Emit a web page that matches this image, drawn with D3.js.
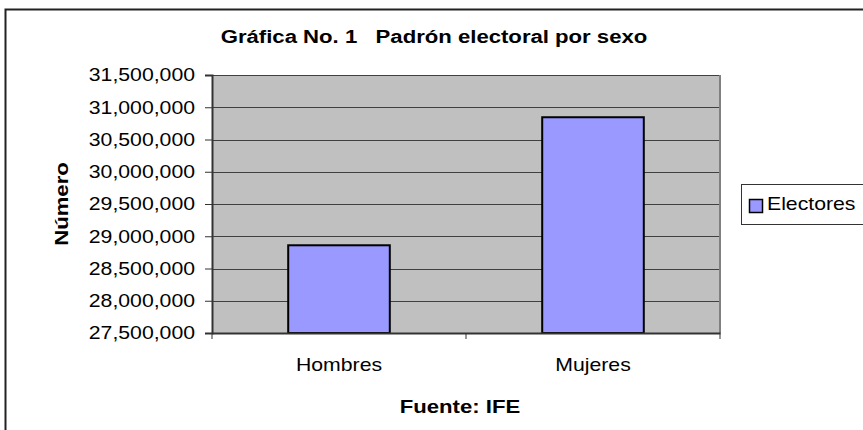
<html>
<head>
<meta charset="utf-8">
<title>Padrón electoral por sexo</title>
<style>
  body { margin: 0; background: #fff; }
  text { font-family: "Liberation Sans", Arial, sans-serif; fill: #000; }
  .grid line { stroke: #404040; stroke-width: 1; shape-rendering: crispEdges; }
</style>
</head>
<body>
<script src="https://cdn.jsdelivr.net/npm/d3@7/dist/d3.min.js"></script>
<script>
// datos
var categories = ["Hombres", "Mujeres"];
var electores = [28860000, 30845000];
var yTicks = [27500000, 28000000, 28500000, 29000000, 29500000, 30000000, 30500000, 31000000, 31500000];
var seriesName = "Electores";

var width = 863, height = 430;
var pLeft = 212, pRight = 720, pTop = 75, pBottom = 333;
var sx = 1.18;    // el texto del original sale ensanchado
var sxB = 1.23;   // titulos en negrita

var svg = d3.select("body").append("svg")
  .attr("width", width).attr("height", height);

// marco exterior
svg.append("rect")
  .attr("x", 5.5).attr("y", 9.5)
  .attr("width", 900).attr("height", 440)
  .attr("fill", "none").attr("stroke", "#222").attr("stroke-width", 2);

var x = d3.scaleBand()
  .domain(categories)
  .range([pLeft, pRight])
  .paddingInner(0.6).paddingOuter(0.3);

var y = d3.scaleLinear()
  .domain([yTicks[0], yTicks[yTicks.length - 1]])
  .range([pBottom, pTop]);

// fondo del area
svg.append("rect")
  .attr("x", pLeft).attr("y", pTop)
  .attr("width", pRight - pLeft).attr("height", pBottom - pTop)
  .attr("fill", "#c0c0c0");

// lineas de division
svg.append("g").attr("class", "grid")
  .selectAll("line")
  .data(yTicks)
  .enter().append("line")
  .attr("x1", pLeft).attr("x2", pRight)
  .attr("y1", d => Math.round(y(d)) + 0.5).attr("y2", d => Math.round(y(d)) + 0.5);

// borde derecho
svg.append("line")
  .attr("x1", pRight).attr("x2", pRight).attr("y1", pTop).attr("y2", pBottom)
  .attr("stroke", "#808080").attr("stroke-width", 2);

// barras
svg.selectAll("rect.bar")
  .data(electores)
  .enter().append("rect")
  .attr("class", "bar")
  .attr("x", (d, i) => x(categories[i]))
  .attr("y", d => y(d))
  .attr("width", x.bandwidth())
  .attr("height", d => pBottom - y(d))
  .attr("fill", "#9999ff")
  .attr("stroke", "#000").attr("stroke-width", 2);

// eje y
var fmt = d3.format(",");
var yAxis = svg.append("g")
  .attr("transform", "translate(" + pLeft + ",0)")
  .call(d3.axisLeft(y).tickValues(yTicks).tickSize(7).tickFormat(fmt));
yAxis.select(".domain").attr("stroke", "#333").attr("stroke-width", 2);
yAxis.selectAll(".tick line").attr("stroke", "#333");
yAxis.selectAll(".tick text")
  .attr("x", -17 / sx)
  .attr("transform", "scale(" + sx + ",1)")
  .style("font-size", "18px");

// eje x
var xAxis = svg.append("g")
  .attr("transform", "translate(0," + pBottom + ")")
  .call(d3.axisBottom(x).tickSize(0).tickPadding(0));
xAxis.select(".domain").attr("stroke", "#333").attr("stroke-width", 2);
xAxis.selectAll(".tick text")
  .attr("y", 0).attr("dy", 0)
  .attr("transform", "translate(0,38) scale(" + sx + ",1)")
  .style("font-size", "18px");

var bounds = categories.map(c => x(c) - (x.step() - x.bandwidth()) / 2);
bounds.push(pRight);
svg.append("g").selectAll("line")
  .data(bounds)
  .enter().append("line")
  .attr("x1", d => d).attr("x2", d => d)
  .attr("y1", pBottom).attr("y2", pBottom + 6)
  .attr("stroke", "#333");

// titulos
function label(txt, px, py, rot) {
  var g = svg.append("g")
    .attr("transform", "translate(" + px + "," + py + ") rotate(" + rot + ") scale(" + sxB + ",1)");
  g.append("text")
    .attr("text-anchor", "middle")
    .style("font-size", "18px")
    .style("font-weight", "bold")
    .style("white-space", "pre")
    .text(txt);
}
label("Gráfica No. 1   Padrón electoral por sexo", 434, 43, 0);
label("Fuente: IFE", 460, 413, 0);
label("Número", 68, 204, -90);

// leyenda
var lg = svg.append("g");
lg.append("rect")
  .attr("x", 741.5).attr("y", 184.5)
  .attr("width", 140).attr("height", 40)
  .attr("fill", "#fff").attr("stroke", "#333").attr("stroke-width", 1);
lg.append("rect")
  .attr("x", 749.5).attr("y", 199.5)
  .attr("width", 13).attr("height", 13)
  .attr("fill", "#9999ff").attr("stroke", "#000").attr("stroke-width", 1.5);
lg.append("text")
  .attr("transform", "translate(767,210) scale(" + sx + ",1)")
  .style("font-size", "18px")
  .text(seriesName);
</script>
</body>
</html>
